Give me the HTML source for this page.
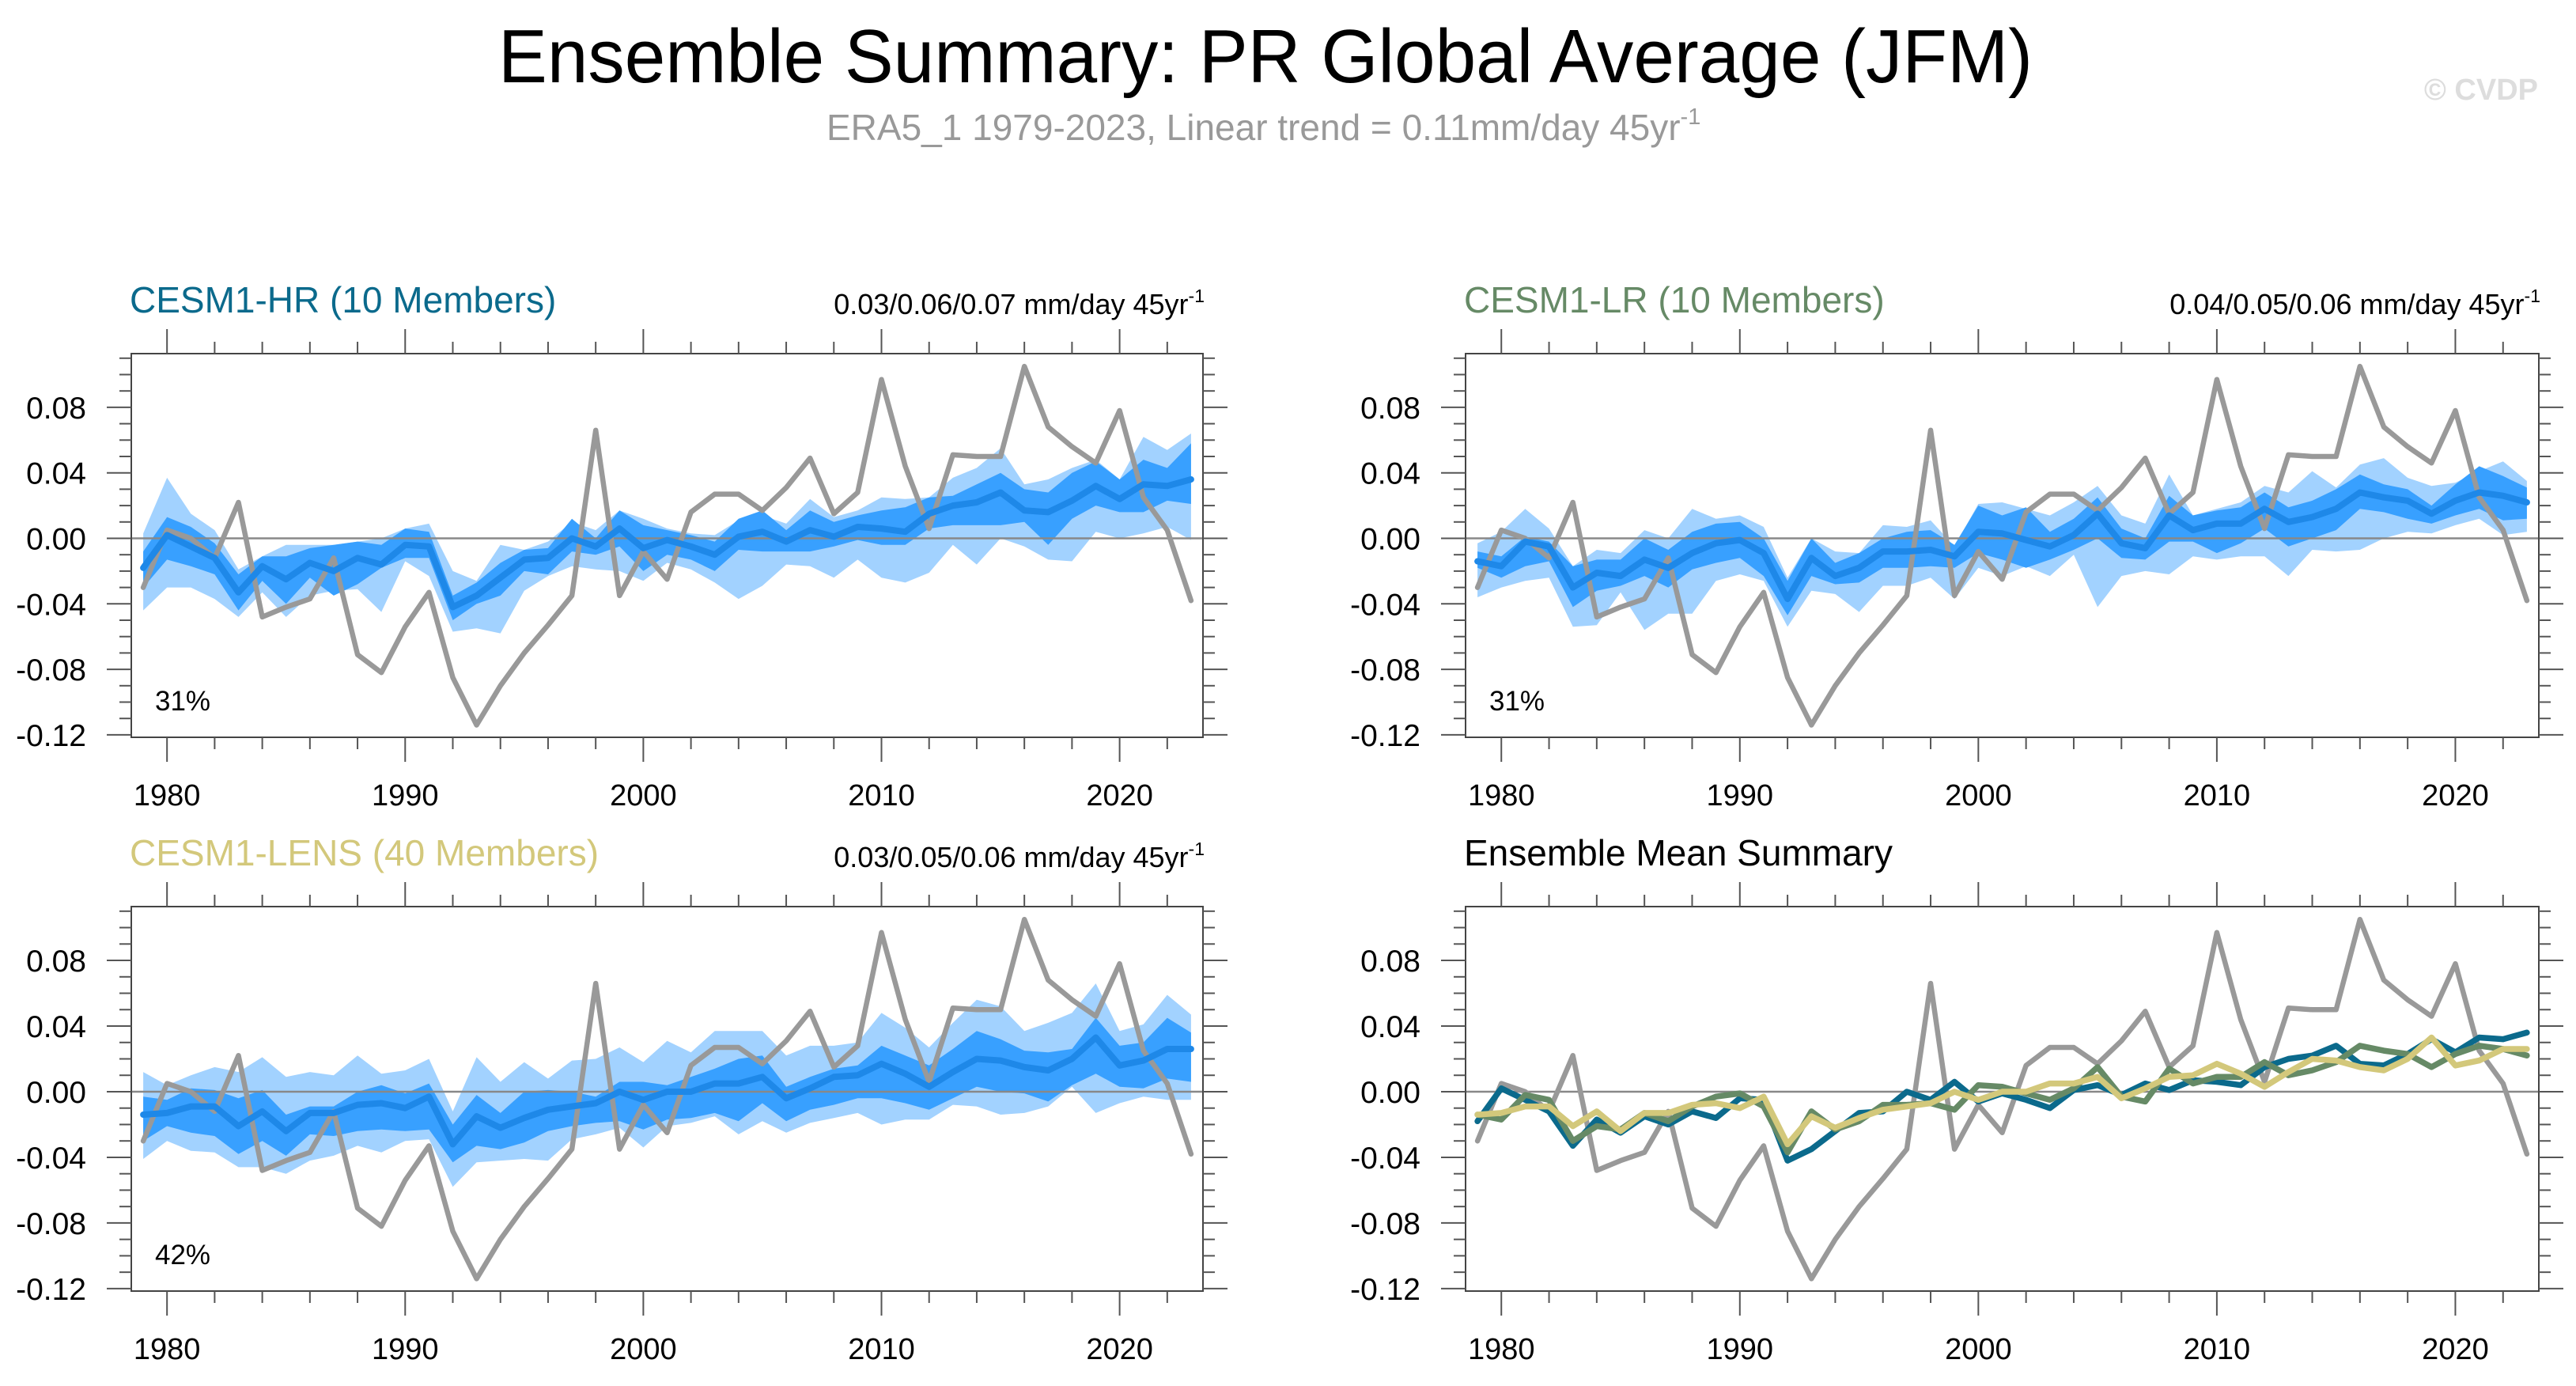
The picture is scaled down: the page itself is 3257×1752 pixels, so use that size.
<!DOCTYPE html>
<html><head><meta charset="utf-8">
<style>
html,body{margin:0;padding:0;background:#fff;}
svg{display:block;font-family:"Liberation Sans",sans-serif;}
</style></head>
<body>
<svg id="fig" width="3257" height="1752" viewBox="0 0 3257 1752" xmlns="http://www.w3.org/2000/svg">
<rect width="3257" height="1752" fill="#fff"/>
<text x="1600" y="104" text-anchor="middle" font-size="96" textLength="1940" lengthAdjust="spacingAndGlyphs" fill="#000">Ensemble Summary: PR Global Average (JFM)</text>
<text x="1045" y="177" font-size="46" fill="#999">ERA5_1 1979-2023, Linear trend = 0.11mm/day 45yr<tspan dy="-20" font-size="29">-1</tspan></text>
<text x="3209" y="126" text-anchor="end" font-size="38" font-weight="bold" fill="#ddd">© CVDP</text>
<g id="plots"></g>
</svg>
<script>
const years = [];
for (let y = 1979; y <= 2023; y++) years.push(y);
const era5 = [-0.030,0.005,0.000,-0.012,0.022,-0.048,-0.042,-0.037,-0.012,-0.071,-0.082,-0.054,-0.033,-0.085,-0.114,-0.090,-0.070,-0.053,-0.035,0.066,-0.035,-0.008,-0.025,0.016,0.027,0.027,0.017,0.031,0.049,0.015,0.028,0.097,0.044,0.006,0.051,0.050,0.050,0.105,0.068,0.056,0.046,0.078,0.025,0.005,-0.038];

const hrMean = [-0.018,0.002,-0.005,-0.012,-0.033,-0.017,-0.025,-0.015,-0.020,-0.012,-0.016,-0.004,-0.005,-0.042,-0.035,-0.024,-0.013,-0.012,0.000,-0.005,0.006,-0.006,-0.001,-0.005,-0.010,0.001,0.004,-0.002,0.005,0.001,0.007,0.006,0.004,0.015,0.020,0.022,0.028,0.017,0.016,0.023,0.032,0.024,0.033,0.032,0.036];
const hrDarkHi = [-0.008,0.013,0.007,-0.003,-0.022,-0.011,-0.011,-0.006,-0.004,-0.002,-0.004,0.006,0.004,-0.035,-0.027,-0.015,-0.007,-0.006,0.012,0.000,0.017,0.008,0.005,0.002,-0.002,0.012,0.017,0.005,0.017,0.010,0.014,0.017,0.019,0.025,0.026,0.033,0.040,0.030,0.028,0.040,0.047,0.036,0.048,0.043,0.058];
const hrDarkLo = [-0.030,-0.013,-0.017,-0.022,-0.044,-0.026,-0.040,-0.024,-0.035,-0.028,-0.018,-0.012,-0.012,-0.050,-0.040,-0.035,-0.020,-0.022,-0.008,-0.010,-0.005,-0.020,-0.010,-0.013,-0.020,-0.007,-0.008,-0.008,-0.008,-0.005,-0.001,-0.004,-0.004,0.006,0.008,0.008,0.008,0.010,-0.004,0.012,0.020,0.016,0.016,0.023,0.021];
const hrLightHi = [0.003,0.037,0.015,0.005,-0.019,-0.011,-0.004,-0.004,-0.004,-0.002,0.000,0.006,0.009,-0.020,-0.026,-0.004,-0.007,-0.002,0.010,0.005,0.017,0.012,0.006,0.003,0.002,0.011,0.014,0.009,0.024,0.013,0.017,0.025,0.024,0.025,0.037,0.043,0.055,0.033,0.036,0.043,0.048,0.036,0.062,0.054,0.064];
const hrLightLo = [-0.044,-0.030,-0.030,-0.037,-0.048,-0.033,-0.048,-0.035,-0.032,-0.031,-0.045,-0.014,-0.023,-0.057,-0.055,-0.058,-0.032,-0.023,-0.017,-0.019,-0.020,-0.026,-0.015,-0.019,-0.027,-0.037,-0.029,-0.016,-0.017,-0.024,-0.013,-0.024,-0.027,-0.021,-0.004,-0.016,0.000,-0.005,-0.013,-0.014,0.004,0.000,0.003,0.007,-0.001];

const lrMean = [-0.014,-0.017,-0.002,-0.005,-0.030,-0.021,-0.023,-0.013,-0.018,-0.009,-0.003,-0.001,-0.009,-0.037,-0.012,-0.023,-0.018,-0.008,-0.008,-0.007,-0.011,0.004,0.003,-0.001,-0.005,0.002,0.015,-0.003,-0.006,0.014,0.005,0.009,0.009,0.018,0.010,0.013,0.018,0.028,0.025,0.023,0.015,0.023,0.028,0.026,0.022];
const lrDarkHi = [-0.008,-0.011,0.001,-0.002,-0.017,-0.013,-0.013,0.000,-0.007,0.004,0.009,0.010,0.000,-0.026,0.000,-0.015,-0.009,0.000,0.004,0.005,-0.004,0.020,0.014,0.019,0.004,0.012,0.025,0.006,0.000,0.026,0.014,0.017,0.019,0.028,0.019,0.023,0.030,0.039,0.033,0.030,0.020,0.033,0.044,0.038,0.031];
const lrDarkLo = [-0.018,-0.024,-0.017,-0.014,-0.042,-0.032,-0.029,-0.023,-0.030,-0.019,-0.015,-0.012,-0.023,-0.047,-0.023,-0.028,-0.027,-0.018,-0.018,-0.017,-0.018,-0.009,-0.013,-0.018,-0.013,-0.007,0.000,-0.012,-0.013,-0.002,-0.002,-0.009,-0.003,0.006,-0.005,0.000,0.005,0.018,0.016,0.012,0.009,0.014,0.018,0.011,0.012];
const lrLightHi = [-0.003,0.004,0.018,0.006,-0.017,-0.007,-0.009,0.005,0.000,0.018,0.012,0.014,0.007,-0.024,0.000,-0.008,-0.009,0.008,0.007,0.011,-0.005,0.021,0.022,0.018,0.014,0.022,0.032,0.014,0.009,0.039,0.014,0.018,0.022,0.032,0.028,0.041,0.031,0.045,0.049,0.037,0.032,0.034,0.041,0.047,0.035];
const lrLightLo = [-0.036,-0.030,-0.026,-0.024,-0.054,-0.053,-0.033,-0.056,-0.046,-0.046,-0.026,-0.022,-0.026,-0.054,-0.032,-0.034,-0.045,-0.029,-0.029,-0.024,-0.037,-0.018,-0.023,-0.017,-0.023,-0.010,-0.042,-0.023,-0.020,-0.022,-0.011,-0.013,-0.011,-0.011,-0.023,-0.007,-0.008,-0.007,0.000,0.004,0.003,0.008,0.012,0.002,0.004];

const lensMean = [-0.014,-0.013,-0.009,-0.009,-0.021,-0.012,-0.024,-0.013,-0.013,-0.008,-0.007,-0.010,-0.003,-0.032,-0.015,-0.022,-0.016,-0.011,-0.009,-0.007,0.000,-0.005,0.000,0.000,0.005,0.005,0.009,-0.004,0.002,0.009,0.010,0.017,0.011,0.003,0.012,0.020,0.019,0.015,0.013,0.020,0.033,0.016,0.019,0.026,0.026];
const lensDarkHi = [-0.003,-0.005,0.002,0.001,-0.004,0.001,-0.014,-0.009,-0.009,0.000,0.004,-0.001,0.005,-0.020,-0.002,-0.013,0.000,0.001,0.000,-0.003,0.006,0.006,0.004,0.009,0.014,0.020,0.022,0.003,0.009,0.014,0.016,0.028,0.022,0.016,0.026,0.037,0.032,0.025,0.024,0.026,0.045,0.028,0.030,0.045,0.036];
const lensDarkLo = [-0.030,-0.021,-0.025,-0.027,-0.038,-0.030,-0.039,-0.026,-0.027,-0.024,-0.023,-0.024,-0.023,-0.043,-0.033,-0.035,-0.031,-0.024,-0.021,-0.019,-0.018,-0.023,-0.017,-0.016,-0.013,-0.018,-0.007,-0.018,-0.011,-0.008,-0.004,-0.004,-0.007,-0.011,-0.004,0.003,0.000,-0.001,-0.006,0.004,0.011,0.003,0.002,0.008,0.006];
const lensLightHi = [0.012,0.004,0.010,0.015,0.012,0.021,0.009,0.012,0.010,0.022,0.011,0.013,0.020,-0.012,0.021,0.006,0.018,0.008,0.019,0.020,0.027,0.018,0.031,0.024,0.037,0.037,0.037,0.022,0.028,0.028,0.030,0.048,0.039,0.027,0.042,0.056,0.052,0.037,0.042,0.048,0.066,0.037,0.041,0.059,0.047];
const lensLightLo = [-0.041,-0.030,-0.036,-0.037,-0.046,-0.046,-0.050,-0.042,-0.039,-0.033,-0.037,-0.030,-0.029,-0.058,-0.043,-0.042,-0.041,-0.042,-0.029,-0.026,-0.022,-0.034,-0.021,-0.019,-0.015,-0.026,-0.018,-0.025,-0.019,-0.016,-0.013,-0.020,-0.017,-0.017,-0.008,-0.009,-0.014,-0.013,-0.009,0.003,-0.013,-0.007,-0.003,-0.005,-0.005];

const yTicks = [-0.12,-0.08,-0.04,0.00,0.04,0.08];
const yTickLabels = ["-0.12","-0.08","-0.04","0.00","0.04","0.08"];
const xTicks = [1980,1990,2000,2010,2020];
const xTickLabels = ["1980","1990","2000","2010","2020"];

const NS = "http://www.w3.org/2000/svg";
const root = document.getElementById('plots');
const XMIN = 1978.5, XMAX = 2023.5, YMIN = -0.1215, YMAX = 0.1128;

function mk(tag, attrs, parent) {
  const e = document.createElementNS(NS, tag);
  for (const k in attrs) e.setAttribute(k, attrs[k]);
  parent.appendChild(e);
  return e;
}

function panel(cfg) {
  const g = mk('g', {}, root);
  
  
  const L = cfg.x0, R = cfg.x1, T = cfg.y0, B = cfg.y1;
  const sx = v => L + (v - XMIN) / (XMAX - XMIN) * (R - L);
  const sy = v => B - (v - YMIN) / (YMAX - YMIN) * (B - T);

  function band(hi, lo, color, nm) {
    let d = '';
    years.forEach((yr, i) => { d += (i ? 'L' : 'M') + sx(yr).toFixed(1) + ' ' + sy(hi[i]).toFixed(1); });
    for (let i = years.length - 1; i >= 0; i--) d += 'L' + sx(years[i]).toFixed(1) + ' ' + sy(lo[i]).toFixed(1);
    const p = mk('path', {d: d + 'Z', fill: color}, g);
    
    
  }
  function line(vals, color, w, nm) {
    const pts = years.map((yr, i) => sx(yr).toFixed(1) + ',' + sy(vals[i]).toFixed(1)).join(' ');
    const p = mk('polyline', {points: pts, fill: 'none', stroke: color, 'stroke-width': w, 'stroke-linejoin': 'round', 'stroke-linecap': 'round'}, g);
    
    
  }

  if (cfg.bands) {
    band(cfg.bands.lightHi, cfg.bands.lightLo, '#a2d2ff', 'outer-range-band');
    band(cfg.bands.darkHi, cfg.bands.darkLo, '#38a0ff', 'inner-range-band');
  }
  const z = mk('line', {x1: L, x2: R, y1: sy(0), y2: sy(0), stroke: '#888', 'stroke-width': 2.5}, g);
  
  
  line(era5, '#999999', 6.5, 'era5-observed-line');
  cfg.lines.forEach(l => line(l.vals, l.color, l.w, l.name));

  const frame = mk('rect', {x: L, y: T, width: R - L, height: B - T, fill: 'none', stroke: '#444', 'stroke-width': 2}, g);
  
  

  for (let yr = 1980; yr <= 2022; yr += 2) {
    const major = yr % 10 === 0;
    const len = major ? 31 : 15;
    const xx = sx(yr);
    mk('line', {x1: xx, x2: xx, y1: T, y2: T - len, stroke: '#555', 'stroke-width': 2}, g);
    mk('line', {x1: xx, x2: xx, y1: B, y2: B + len, stroke: '#555', 'stroke-width': 2}, g);
  }
  xTicks.forEach((v, i) => {
    const t = mk('text', {x: sx(v), y: B + 86, 'text-anchor': 'middle', 'font-size': 38, fill: '#000'}, g);
    
    
    t.textContent = xTickLabels[i];
  });
  for (let k = -12; k <= 11; k++) {
    const v = k / 100;
    const major = k % 4 === 0;
    const len = major ? 31 : 15;
    const yy = sy(v);
    mk('line', {x1: L, x2: L - len, y1: yy, y2: yy, stroke: '#555', 'stroke-width': 2}, g);
    mk('line', {x1: R, x2: R + len, y1: yy, y2: yy, stroke: '#555', 'stroke-width': 2}, g);
  }
  yTicks.forEach((v, i) => {
    const t = mk('text', {x: L - 57, y: sy(v) + 14, 'text-anchor': 'end', 'font-size': 39, fill: '#000'}, g);
    
    
    t.textContent = yTickLabels[i];
  });

  const title = mk('text', {x: L - 2, y: T - 52, 'font-size': 46, fill: cfg.titleColor}, g);
  
  
  title.textContent = cfg.title;

  if (cfg.trend) {
    const tr = mk('text', {x: R + 2, y: T - 50, 'text-anchor': 'end', 'font-size': 36, fill: '#000'}, g);
    
    
    tr.textContent = cfg.trend;
    const sup = mk('tspan', {dy: -15, 'font-size': 23}, tr);
    sup.textContent = '-1';
  }
  if (cfg.pct) {
    const p = mk('text', {x: L + 30, y: B - 34, 'font-size': 35, fill: '#000'}, g);
    
    
    p.textContent = cfg.pct;
  }
}

panel({name: 'panel-cesm1-hr', x0: 166, x1: 1521, y0: 447, y1: 932,
  title: 'CESM1-HR (10 Members)', titleColor: '#0b6a8c', trend: '0.03/0.06/0.07 mm/day 45yr', pct: '31%',
  bands: {lightHi: hrLightHi, lightLo: hrLightLo, darkHi: hrDarkHi, darkLo: hrDarkLo},
  lines: [{vals: hrMean, color: '#1e88e8', w: 8, name: 'ensemble-mean-line'}]});
panel({name: 'panel-cesm1-lr', x0: 1853, x1: 3210, y0: 447, y1: 932,
  title: 'CESM1-LR (10 Members)', titleColor: '#668a66', trend: '0.04/0.05/0.06 mm/day 45yr', pct: '31%',
  bands: {lightHi: lrLightHi, lightLo: lrLightLo, darkHi: lrDarkHi, darkLo: lrDarkLo},
  lines: [{vals: lrMean, color: '#1e88e8', w: 8, name: 'ensemble-mean-line'}]});
panel({name: 'panel-cesm1-lens', x0: 166, x1: 1521, y0: 1146, y1: 1632,
  title: 'CESM1-LENS (40 Members)', titleColor: '#d3c87b', trend: '0.03/0.05/0.06 mm/day 45yr', pct: '42%',
  bands: {lightHi: lensLightHi, lightLo: lensLightLo, darkHi: lensDarkHi, darkLo: lensDarkLo},
  lines: [{vals: lensMean, color: '#1e88e8', w: 8, name: 'ensemble-mean-line'}]});
panel({name: 'panel-ensemble-mean-summary', x0: 1853, x1: 3210, y0: 1146, y1: 1632,
  title: 'Ensemble Mean Summary', titleColor: '#000', trend: null, pct: null, bands: null,
  lines: [
    {vals: hrMean, color: '#0b6a8c', w: 7.5, name: 'cesm1-hr-mean-line'},
    {vals: lrMean, color: '#668a66', w: 7.5, name: 'cesm1-lr-mean-line'},
    {vals: lensMean, color: '#d3c87b', w: 7.5, name: 'cesm1-lens-mean-line'}]});
</script>
</body></html>
